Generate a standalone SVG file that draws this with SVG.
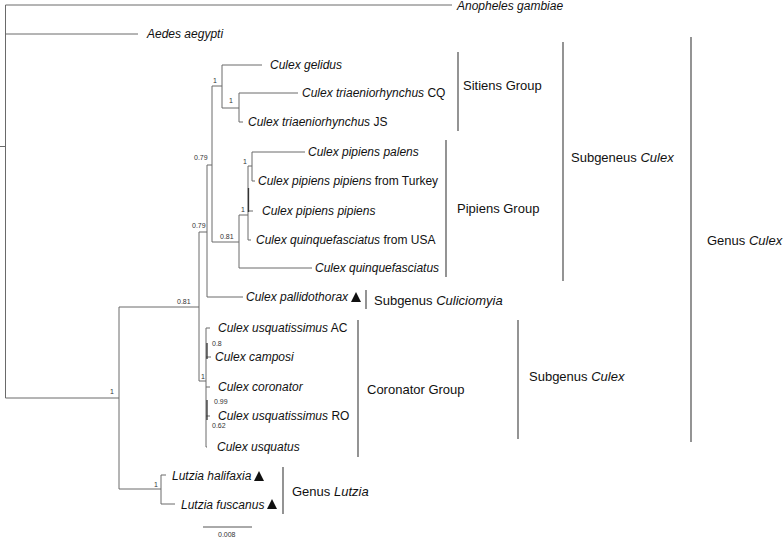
<svg xmlns="http://www.w3.org/2000/svg" width="784" height="539" viewBox="0 0 784 539">
<style>
.t{font-family:"Liberation Sans",Arial,sans-serif;font-size:12px;fill:#111}
.i{font-style:italic}
.g{font-family:"Liberation Sans",Arial,sans-serif;font-size:13px;fill:#111}
.s{font-family:"Liberation Sans",Arial,sans-serif;font-size:7px;fill:#333}
.br{stroke:#666;stroke-width:1.4;fill:none}
.tr{stroke:#6a6a6a;stroke-width:1;fill:none}
.dk{stroke:#333;stroke-width:1.3;fill:none}
.tri{fill:#111}
</style>
<rect width="784" height="539" fill="#fff"/>
<g id="connectors">
<path class="tr" d="M0,146.5H5.5"/>
<path class="tr" d="M5.5,5V398M5.5,5H452M5.5,34H138M5.5,398H119"/>
<path class="tr" d="M119,307V489M119,307H199M119,489H161"/>
<path class="tr" d="M161,475V504M161,475H166M161,504H175"/>
<path class="tr" d="M199,232V381M199,232H207M199,381H206"/>
<path class="tr" d="M207,165V297M207,165H212M207,297H243"/>
<path class="tr" d="M212,86V242M212,86H222M212,242H239"/>
<path class="tr" d="M222,65V108M222,65H262M222,108H239"/>
<path class="tr" d="M239,93V122M239,93H298M239,122H243"/>
<path class="tr" d="M239,215V268M239,215H248M239,268H312"/>
<path class="tr" d="M248,166V240M248,166H252M248,211H253M248,240H251"/>
<path class="tr" d="M252,152V181M252,152H305M252,181H255"/>
<path class="tr" d="M206,328V447M206,328H210M206,357H211M206,387H210M206,416H210M206,447H207"/>
<path class="dk" d="M207,343V359M207,400V420M248.5,188V212"/>
<path class="tr" d="M203,527H252" style="stroke:#555"/>
</g>
<g id="brackets">
<path class="br" d="M458,52V131"/>
<path class="br" d="M446,140V277"/>
<path class="br" d="M563,42V281"/>
<path class="br" d="M691,37V442"/>
<path class="br" d="M366,290V309"/>
<path class="br" d="M358,320V457"/>
<path class="br" d="M518,320V439"/>
<path class="br" d="M283,467V514"/>
</g>
<g id="taxa">
<g id="n-anopheles"><text class="t i" x="457" y="10">Anopheles gambiae</text></g>
<g id="n-aedes"><text class="t i" x="147" y="38">Aedes aegypti</text></g>
<g id="n-gelidus"><text class="t i" x="270" y="69">Culex gelidus</text></g>
<g id="n-cq"><text class="t" x="302" y="97"><tspan class="i">Culex triaeniorhynchus</tspan> CQ</text></g>
<g id="n-js"><text class="t" x="248" y="126"><tspan class="i">Culex triaeniorhynchus</tspan> JS</text></g>
<g id="n-palens"><text class="t i" x="308" y="156">Culex pipiens palens</text></g>
<g id="n-turkey"><text class="t" x="258" y="185"><tspan class="i">Culex pipiens pipiens</tspan> from Turkey</text></g>
<g id="n-pippip"><text class="t i" x="262" y="215">Culex pipiens pipiens</text></g>
<g id="n-usa"><text class="t" x="256" y="244"><tspan class="i">Culex quinquefasciatus</tspan> from USA</text></g>
<g id="n-quinq"><text class="t i" x="315" y="272">Culex quinquefasciatus</text></g>
<g id="n-pallido"><text class="t i" x="246" y="301">Culex pallidothorax</text><polygon class="tri" points="351,302 361,302 356,292"/></g>
<g id="n-ac"><text class="t" x="218" y="332"><tspan class="i">Culex usquatissimus</tspan> AC</text></g>
<g id="n-camposi"><text class="t i" x="215" y="361">Culex camposi</text></g>
<g id="n-coronator"><text class="t i" x="218" y="391">Culex coronator</text></g>
<g id="n-ro"><text class="t" x="218" y="420"><tspan class="i">Culex usquatissimus</tspan> RO</text></g>
<g id="n-usquatus"><text class="t i" x="217" y="451">Culex usquatus</text></g>
<g id="n-halifaxia"><text class="t i" x="172" y="480">Lutzia halifaxia</text><polygon class="tri" points="254,481 264,481 259,471"/></g>
<g id="n-fuscanus"><text class="t i" x="181" y="509">Lutzia fuscanus</text><polygon class="tri" points="267,509 277,509 272,499"/></g>
</g>
<g id="support">
<text class="s" x="213" y="83">1</text>
<text class="s" x="229" y="103">1</text>
<text class="s" x="194" y="160">0.79</text>
<text class="s" x="192" y="228">0.79</text>
<text class="s" x="220" y="239">0.81</text>
<text class="s" x="243" y="164">1</text>
<text class="s" x="241" y="212">1</text>
<text class="s" x="177" y="304">0.81</text>
<text class="s" x="110" y="394">1</text>
<text class="s" x="201" y="379">1</text>
<text class="s" x="212" y="346">0.8</text>
<text class="s" x="214" y="404">0.99</text>
<text class="s" x="212" y="428">0.62</text>
<text class="s" x="154" y="487">1</text>
<text class="s" x="218" y="537">0.008</text>
</g>
<g id="groups">
<g id="l-sitiens"><text class="g" x="463" y="90">Sitiens Group</text></g>
<g id="l-pipiens"><text class="g" x="457" y="213">Pipiens Group</text></g>
<g id="l-subculex1"><text class="g" x="571" y="162">Subgeneus <tspan class="i">Culex</tspan></text></g>
<g id="l-genusculex"><text class="g" x="707" y="245">Genus <tspan class="i">Culex</tspan></text></g>
<g id="l-culiciomyia"><text class="g" x="374" y="305">Subgenus <tspan class="i">Culiciomyia</tspan></text></g>
<g id="l-coronator"><text class="g" x="367" y="394">Coronator Group</text></g>
<g id="l-subculex2"><text class="g" x="529" y="381">Subgenus <tspan class="i">Culex</tspan></text></g>
<g id="l-lutzia"><text class="g" x="292" y="496">Genus <tspan class="i">Lutzia</tspan></text></g>
</g>
</svg>
